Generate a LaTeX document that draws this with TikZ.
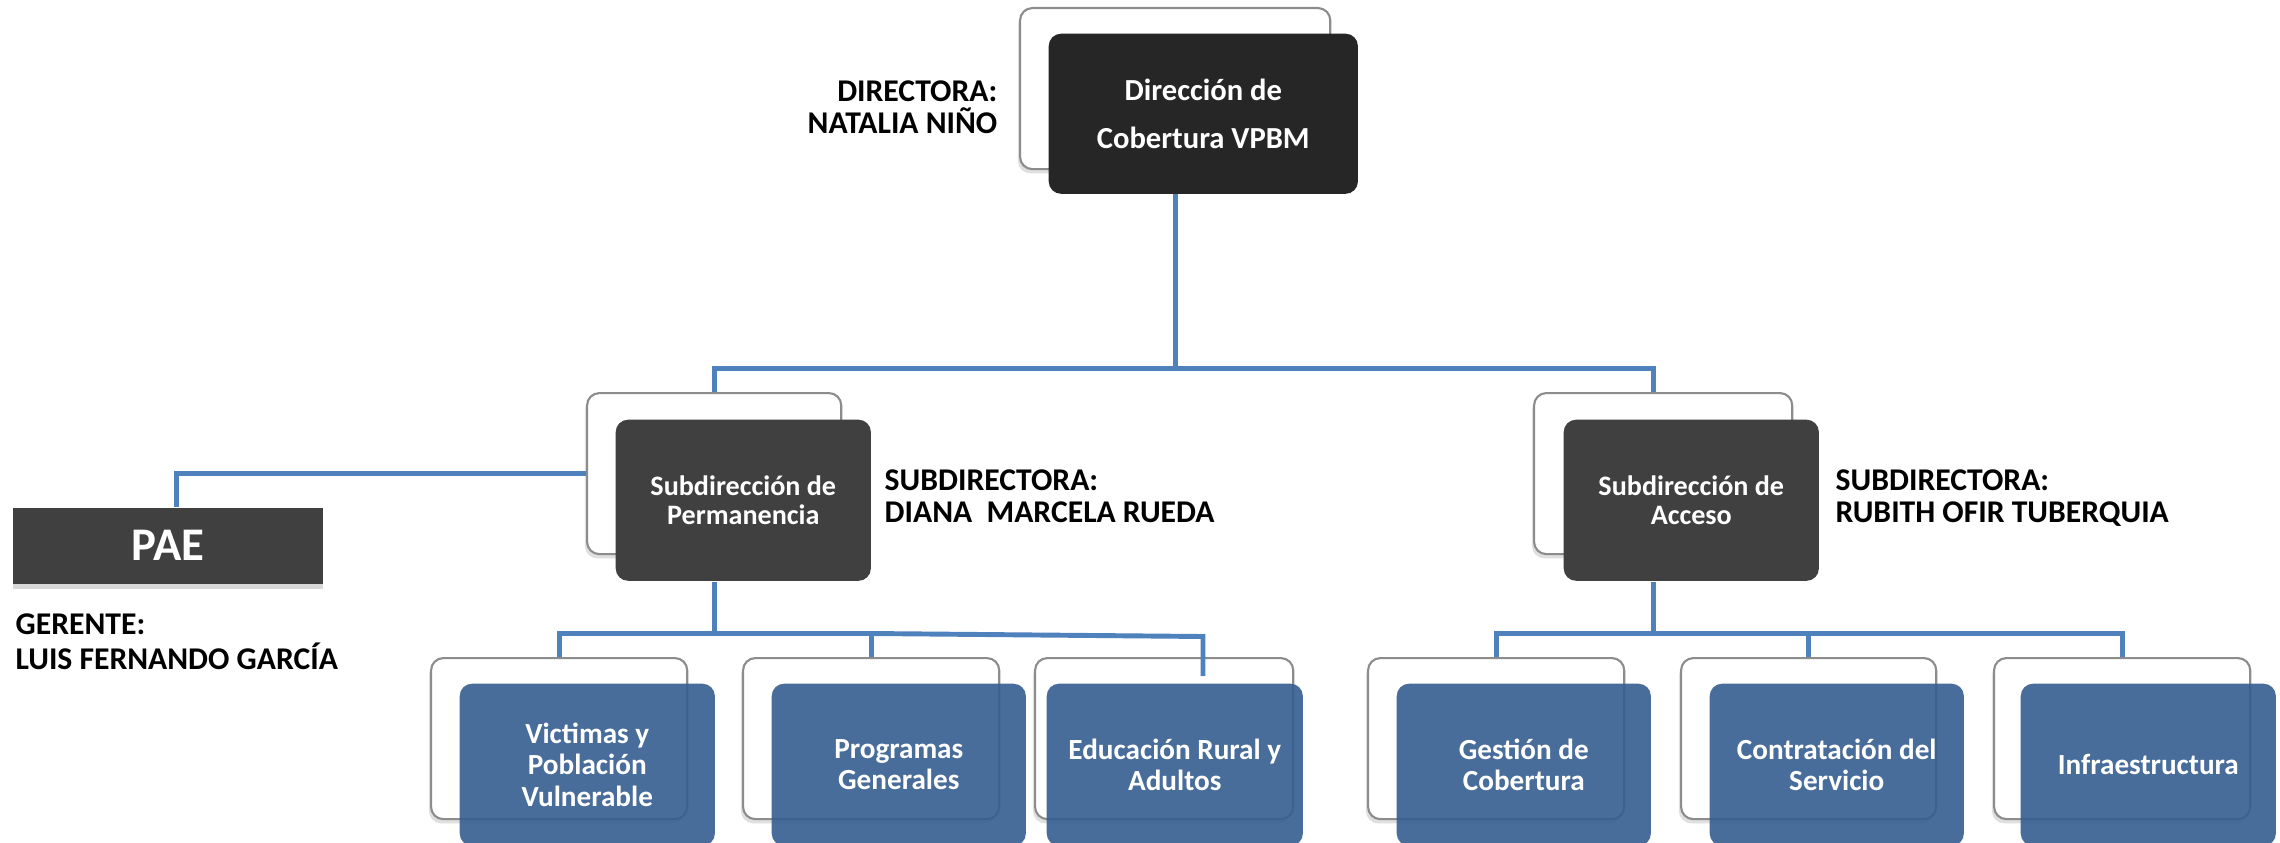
\documentclass[tikz,border=0pt]{standalone}
\usepackage{fontspec}
\setmainfont{Carlito}
\usetikzlibrary{shadows}
\definecolor{linkblue}{RGB}{79,129,189}
\definecolor{unitblue}{RGB}{54,94,144}
\tikzset{
	backbox/.style={draw=black!45, line width=0.6pt, fill=white, rounded corners=3.5pt, anchor=north west, inner sep=0pt, minimum height=1.61cm, drop shadow={shadow xshift=-0.6pt, shadow yshift=-1.2pt, opacity=0.25}},
	headbox/.style={fill=black!85, text=white, rounded corners=3.5pt, anchor=north west, inner sep=0pt, align=center, minimum width=3.09cm, minimum height=1.6cm, font=\bfseries\fontsize{8.7}{13.7}\selectfont},
	subbox/.style={fill=black!75, text=white, rounded corners=3.5pt, anchor=north west, inner sep=0pt, align=center, minimum width=2.55cm, minimum height=1.61cm, font=\bfseries\fontsize{8}{8.5}\selectfont},
	unitbox/.style={fill=unitblue, fill opacity=0.9, text opacity=1, text=white, rounded corners=3.5pt, anchor=north west, inner sep=0pt, align=center, minimum width=2.55cm, minimum height=1.62cm, font=\bfseries\fontsize{8.3}{9}\selectfont},
	who/.style={inner sep=0pt, font=\bfseries\fontsize{9}{9.2}\selectfont},
	link/.style={draw=linkblue, line width=1.4pt}
}

\begin{document}
\begin{tikzpicture}[x=0.01cm, y=-0.01cm]
		%%%%% START %%%%%
		\fill[white] (0,0) rectangle (2280,843);
		\useasboundingbox (0,0) rectangle (2280,843);
		
		% direccion
		\node[backbox, minimum width=3.1cm] (dirBack) at (1019,7) {};
		\node[headbox] (dir) at (1048,33) {Dirección de\\Cobertura VPBM};
		\node[who, anchor=north east, align=right] (dirWho) at (998,80) {DIRECTORA:\\NATALIA NIÑO};
		
		% subdirecciones
		\node[backbox, minimum width=2.54cm] (permBack) at (586,392) {};
		\node[subbox] (perm) at (615,419) {Subdirección de\\Permanencia};
		\node[who, anchor=north west, align=left] (permWho) at (884,469) {SUBDIRECTORA:\\DIANA\ \ MARCELA RUEDA};
		
		\node[backbox, minimum width=2.58cm] (accBack) at (1533,392) {};
		\node[subbox] (acc) at (1563,419) {Subdirección de\\Acceso};
		\node[who, anchor=north west, align=left] (accWho) at (1835,469) {SUBDIRECTORA:\\RUBITH OFIR TUBERQUIA};
		
		% pae
		\node[fill=black!75, text=white, anchor=north west, inner sep=0pt, minimum width=3.1cm, minimum height=0.76cm, font=\bfseries\fontsize{13.3}{14}\selectfont, drop shadow={shadow xshift=0pt, shadow yshift=-1.5pt, opacity=0.3}] (pae) at (12,507) {PAE};
		\node[who, anchor=north west, align=left, font=\bfseries\fontsize{9}{10}\selectfont] (paeWho) at (15,613) {GERENTE:\\LUIS FERNANDO GARCÍA};
		
		% grupos permanencia
		\node[backbox, minimum width=2.56cm] (vicBack) at (430,657) {};
		\node[backbox, minimum width=2.56cm] (progBack) at (742,657) {};
		\node[backbox, minimum width=2.58cm] (eduBack) at (1034,657) {};
		\node[unitbox] (vic) at (459,683) {Victimas y\\Población\\Vulnerable};
		\node[unitbox, minimum width=2.54cm] (prog) at (771,683) {Programas\\Generales};
		\node[unitbox, minimum width=2.56cm] (edu) at (1046,683) {Educación Rural y\\Adultos};
		
		% grupos acceso
		\node[backbox, minimum width=2.56cm] (gesBack) at (1367,657) {};
		\node[backbox, minimum width=2.55cm] (conBack) at (1680,657) {};
		\node[backbox, minimum width=2.56cm] (infBack) at (1993,657) {};
		\node[unitbox, minimum width=2.54cm] (ges) at (1396,683) {Gestión de\\Cobertura};
		\node[unitbox, minimum width=2.54cm] (con) at (1709,683) {Contratación del\\Servicio};
		\node[unitbox] (inf) at (2020,683) {Infraestructura};
		
		% conectores
		\draw[link] (dirBack.south |- dir.south) -- ++(0,174) coordinate (busTop);
		\draw[link] (permBack.north) |- ([xshift=-0.1cm]accBack.north |- busTop) -- ([xshift=-0.1cm]accBack.north);
		\draw[link] (permBack.west) -| ([xshift=0.09cm]pae.north);
		
		\coordinate (eduTap) at (1203,676);
		\draw[link] (permBack.south |- perm.south) -- ++(0,52) coordinate (busPerm);
		\draw[link] (vicBack.north) |- (progBack.north |- busPerm) -- (progBack.north);
		\draw[link] (progBack.north |- busPerm) -- ([yshift=-0.03cm]eduTap |- busPerm) -- (eduTap);
		
		\draw[link] ([xshift=-0.1cm]accBack.south |- acc.south) -- ++(0,52) coordinate (busAcc);
		\draw[link] (gesBack.north) |- (infBack.north |- busAcc) -- (infBack.north);
		\draw[link] (conBack.north) -- (conBack.north |- busAcc);
		%%%%% END %%%%%
\end{tikzpicture}
\end{document}
